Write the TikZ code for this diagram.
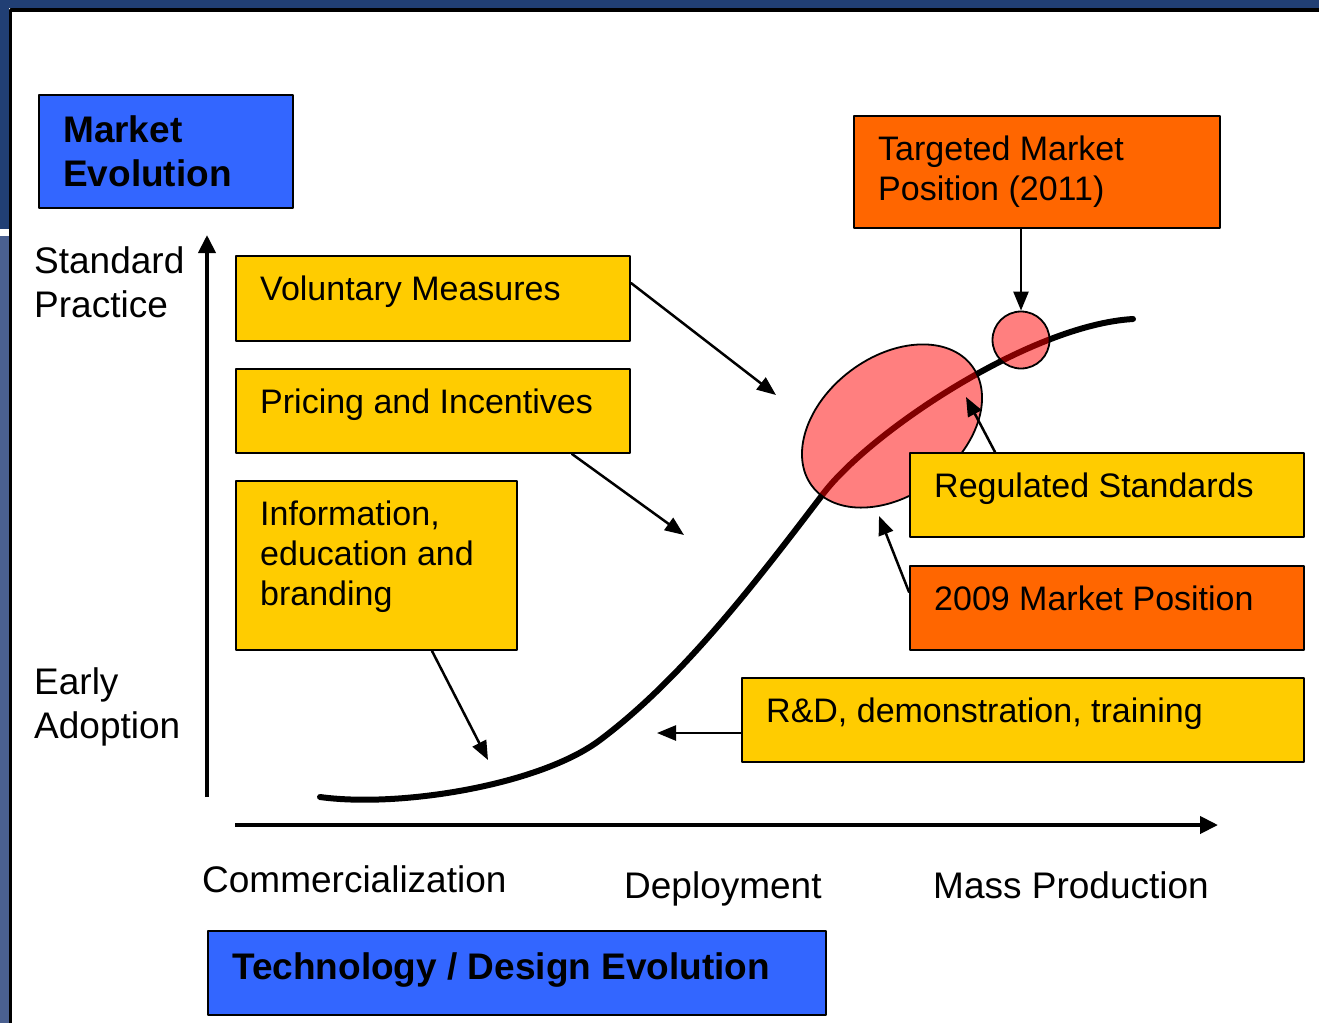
\documentclass[tikz,border=0pt]{standalone}
\usepackage{fontspec}
\setmainfont{Liberation Sans}
\usetikzlibrary{arrows.meta}
\usetikzlibrary{shapes}
\usetikzlibrary{calc}

\definecolor{mktblue}{HTML}{3366FF}
\definecolor{mktyellow}{HTML}{FFCC00}
\definecolor{mktorange}{HTML}{FF6600}
\definecolor{framedark}{HTML}{213F74}
\definecolor{framelight}{HTML}{4A6090}

\begin{document}
\begin{tikzpicture}[x=1pt, y=-1pt, line cap=round, line join=round, >={Triangle[length=19pt,width=15pt]},
  panel/.style={draw, line width=2pt, anchor=north west, inner sep=0pt, line cap=butt},
  boxtext/.style={anchor=base west, inner sep=0pt, align=left, font=\fontsize{34}{40}\selectfont},
  sidetext/.style={anchor=base west, inner sep=0pt, align=left, font=\fontsize{37}{44}\selectfont},
  headtext/.style={sidetext, font=\fontsize{37}{44}\selectfont\bfseries},
  axis/.style={-{Triangle[length=18pt,width=17pt]}, line width=4pt, line cap=butt},
  pointer/.style={->, line width=2.5pt},
  blob/.style={draw, line width=1.8pt, fill=red, fill opacity=0.5, draw opacity=1, inner sep=0pt}]

\useasboundingbox (0,0) rectangle (1319,1023);

% frame
\fill[white] (0,0) rectangle (1319,1023);
\fill[framedark] (0,0) rectangle (1319,8);
\fill[framedark] (0,0) rectangle (9,229);
\fill[framelight] (0,236) rectangle (9,1023);
\draw[line width=3.5pt, line cap=butt] (10.7,1023) -- (10.7,10) -- (1319,10);

%---------------------------------------------------------------------------------------------------
% axes
\coordinate (yfoot) at (207,797);
\coordinate (ytop) at (207,235);
\coordinate (xfoot) at (235,825);
\coordinate (xtop) at (1218,825);
\draw[axis] (yfoot) -- (ytop);
\draw[axis] (xfoot) -- (xtop);

% multi-line texts sit on the baseline of their last line
\node[sidetext] (stdT) at (34,317) {Standard\\Practice};
\node[sidetext] (earlyT) at (34,738) {Early\\Adoption};
\node[sidetext] (commT) at (202,892) {Commercialization};
\node[sidetext] (depT) at (624,898) {Deployment};
\node[sidetext] (massT) at (933,898) {Mass Production};

% adoption curve
\draw[line width=6pt] (320,797) .. controls (400,808) and (540,785) .. (600,740)
  .. controls (680,680) and (750,590) .. (823,494)
  .. controls (870,432) and (1030,325) .. (1133,319);

\node[blob, ellipse, rotate=37, minimum width=200pt, minimum height=138pt] (now) at (892,426) {};
\node[blob, circle, minimum size=57pt] (goal) at (1021,340) {};

%---------------------------------------------------------------------------------------------------
% boxes
\node[panel, fill=mktblue, minimum width=254pt, minimum height=113pt] (mkt) at (38,94) {};
\node[headtext] (mktT) at (63,186) {Market\\Evolution};

\node[panel, fill=mktyellow, minimum width=394pt, minimum height=85pt] (vol) at (235,255) {};
\node[boxtext] (volT) at (260,300) {Voluntary Measures};

\node[panel, fill=mktyellow, minimum width=394pt, minimum height=84pt] (price) at (235,368) {};
\node[boxtext] (priceT) at (260,413) {Pricing and Incentives};

\node[panel, fill=mktyellow, minimum width=281pt, minimum height=169pt] (info) at (235,480) {};
\node[boxtext] (infoT) at (260,605) {Information,\\education and\\branding};

\node[panel, fill=mktorange, minimum width=366pt, minimum height=112pt] (tgt) at (853,115) {};
\node[boxtext] (tgtT) at (878,200) {Targeted Market\\Position (2011)};

\node[panel, fill=mktyellow, minimum width=394pt, minimum height=84pt] (reg) at (909,452) {};
\node[boxtext] (regT) at (934,497) {Regulated Standards};

\node[panel, fill=mktorange, minimum width=394pt, minimum height=84pt] (pos) at (909,565) {};
\node[boxtext] (posT) at (934,610) {2009 Market Position};

\node[panel, fill=mktyellow, minimum width=562pt, minimum height=84pt] (rnd) at (741,677) {};
\node[boxtext] (rndT) at (766,722) {R\&D, demonstration, training};

\node[panel, fill=mktblue, minimum width=618pt, minimum height=84pt] (tech) at (207,930) {};
\node[headtext] (techT) at (232,979) {Technology / Design Evolution};

%---------------------------------------------------------------------------------------------------
% pointers
\coordinate (volTip) at (776,395);
\coordinate (priceTip) at (684,535);
\coordinate (infoTip) at (488,760);
\coordinate (regTip) at (966,397);
\coordinate (posTip) at (879,516);
\coordinate (rndTip) at (657,733);

\draw[pointer] ($(vol.north east)+(0,28)$) -- (volTip);
\draw[pointer] ($(price.south west)+(337,0)$) -- (priceTip);
\draw[pointer] ($(info.south west)+(197,0)$) -- (infoTip);
\draw[pointer] ($(tgt.south west)+(168,0)$) -- (goal.north);
\draw[pointer] ($(reg.north west)+(86,0)$) -- (regTip);
\draw[pointer] ($(pos.north west)+(0,27)$) -- (posTip);
\draw[pointer] ($(rnd.north west)+(0,56)$) -- (rndTip);

\end{tikzpicture}
\end{document}
